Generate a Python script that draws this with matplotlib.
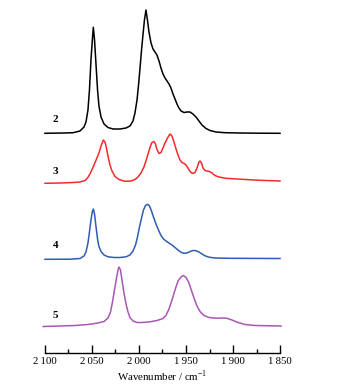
import matplotlib
matplotlib.use('Agg')
import matplotlib.pyplot as plt
from matplotlib.ticker import MultipleLocator, FuncFormatter

plt.rcParams['font.family'] = ['Liberation Serif', 'DejaVu Serif']
plt.rcParams['mathtext.fontset'] = 'custom'
plt.rcParams['mathtext.rm'] = 'Liberation Serif'

# IR spectra (wavenumber / cm-1, absorbance a.u.)
wn2 = [2100, 2080, 2070, 2062.8, 2058.5, 2056.4, 2054.3, 2052.7, 2051.1, 2049.5,
       2048.6, 2047.3, 2045.7, 2044.1, 2042.6, 2040.4, 2037.2, 2033.0, 2027.7, 2020.2,
       2013.8, 2009.6, 2006.4, 2004.3, 2002.1, 2000.5, 1998.9, 1997.3, 1995.7, 1994.2,
       1992.6, 1991.0, 1989.4, 1987.2, 1985.1, 1983.0, 1980.9, 1978.7, 1976.6, 1974.5,
       1972.3, 1970.2, 1968.1, 1966.0, 1963.8, 1961.7, 1959.6, 1957.5, 1955.3, 1952.1,
       1948.9, 1945.7, 1942.6, 1939.4, 1936.2, 1933.0, 1928.7, 1924.5, 1918.1, 1908.5,
       1892.6, 1871.3, 1850]
a2 = [0, 0.3, 0.6, 2.3, 6.3, 11.3, 23.3, 43.3, 73.3, 95.3,
      106, 93.3, 68.3, 43.3, 27.3, 16.3, 9.3, 5.8, 4.3, 4.3,
      5.3, 7.3, 12.3, 20.3, 33.3, 48.3, 65.3, 83.3, 99.3, 113.3,
      123.3, 113.3, 101.3, 90.3, 84.3, 81.3, 78.3, 72.3, 65.3, 59.3,
      55.3, 52.3, 49.3, 45.3, 39.3, 34.3, 29.3, 25.3, 22.3, 20.8,
      21.3, 21.3, 19.3, 16.3, 12.3, 8.3, 4.8, 2.8, 1.3, 0.6,
      0.3, 0.1, 0]

wn3 = [2100, 2084, 2070.2, 2062.8, 2057.4, 2054.3, 2051.1, 2047.9, 2045.2, 2042.6,
       2040.4, 2038.0, 2036.2, 2034.6, 2033.0, 2030.9, 2028.7, 2025.5, 2021.3, 2014.9,
       2008.5, 2004.3, 2001.1, 1997.9, 1994.7, 1992.6, 1990.4, 1987.8, 1986.2, 1984.0,
       1982.5, 1980.9, 1978.7, 1976.6, 1974.5, 1972.3, 1969.7, 1967.0, 1964.9, 1962.8,
       1960.6, 1958.5, 1956.4, 1954.3, 1952.1, 1950.0, 1947.9, 1945.7, 1943.1, 1940.4,
       1938.3, 1936.2, 1935.1, 1933.5, 1931.9, 1929.8, 1927.7, 1925.0, 1922.3, 1919.2,
       1914.9, 1907.5, 1892.6, 1871.3, 1850]
a3 = [0, 0.3, 0.8, 1.3, 2.8, 5.8, 11.3, 18.3, 24.3, 30.3,
      37.3, 43.3, 41.3, 35.3, 27.3, 18.3, 12.3, 6.8, 3.8, 2.0,
      2.3, 3.8, 6.3, 10.3, 16.3, 22.3, 29.3, 37.3, 40.8, 41.8,
      39.3, 33.8, 29.8, 30.8, 35.3, 40.3, 45.3, 49.3, 47.3, 41.3,
      34.3, 28.3, 23.3, 20.8, 19.8, 18.3, 15.3, 11.8, 9.8, 10.8,
      15.3, 21.3, 22.3, 20.3, 15.3, 12.8, 12.3, 11.8, 10.3, 7.8,
      6.3, 5.0, 4.1, 3.0, 2.3]

wn4 = [2100, 2073.4, 2062.8, 2058.5, 2056.4, 2054.3, 2052.7, 2051.1, 2049.7, 2048.6,
       2047.3, 2045.7, 2044.1, 2042.6, 2040.4, 2037.2, 2033.0, 2026.6, 2020.2, 2013.8,
       2009.6, 2006.4, 2003.7, 2001.6, 1999.5, 1997.3, 1995.2, 1993.1, 1990.7, 1988.8,
       1986.7, 1984.6, 1981.9, 1979.3, 1976.6, 1973.9, 1971.3, 1968.1, 1964.9, 1961.7,
       1958.5, 1955.3, 1952.1, 1948.9, 1945.7, 1942.6, 1939.4, 1936.2, 1933.0, 1929.8,
       1925.5, 1919.1, 1903.2, 1850]
a4 = [0, 0.1, 0.8, 3.3, 7.3, 16.3, 27.3, 39.3, 47.3, 50.3,
      45.3, 32.3, 20.3, 12.8, 7.8, 4.3, 2.5, 1.8, 1.8, 2.5,
      4.3, 8.3, 14.3, 22.3, 32.3, 41.3, 49.3, 53.8, 55.0, 53.3,
      48.3, 42.3, 35.3, 29.3, 23.8, 20.3, 18.3, 16.3, 14.3, 11.8,
      9.3, 7.0, 6.0, 6.3, 7.8, 8.8, 8.6, 7.3, 5.3, 3.5,
      2.1, 1.3, 1.0, 0.8]

wn5 = [2102, 2084, 2068.1, 2054.3, 2043.6, 2037.2, 2033.0, 2030.3, 2028.2, 2026.1,
       2023.9, 2022.3, 2021.3, 2019.7, 2018.1, 2016.0, 2013.8, 2011.7, 2009.6, 2006.4,
       2002.1, 1996.8, 1988.3, 1980.9, 1974.5, 1971.3, 1968.1, 1964.9, 1961.7, 1958.5,
       1955.3, 1952.7, 1950.0, 1947.3, 1944.7, 1941.5, 1938.3, 1935.1, 1930.9, 1925.5,
       1918.1, 1911.7, 1906.4, 1901.1, 1894.7, 1887.2, 1876.6, 1848.9]
a5 = [-0.5, 0, 0.5, 1.5, 3.0, 4.5, 8.0, 14.0, 24.0, 36.0,
      48.0, 56.0, 59.0, 56.0, 46.0, 33.0, 22.0, 14.0, 8.5, 5.0,
      3.5, 3.5, 4.2, 5.5, 7.5, 10.5, 17.0, 26.0, 36.0, 45.0,
      49.0, 50.5, 48.5, 44.0, 37.0, 28.0, 20.0, 14.5, 10.5, 8.5,
      7.8, 8.0, 7.7, 6.0, 3.5, 1.5, 0.5, 0]

labels = ['2', '3', '4', '5']
offsets = [219.4, 169.4, 93.4, 26.7]
colors = ['black', '#f52a2a', '#2f5db3', '#a957b3']
label_y = [232.7, 181.3, 107.7, 37.7]

fig = plt.figure(figsize=(3.41, 3.92), dpi=100)
ax = fig.add_axes([45/341, 39.3/392, 235/341, 352.7/392])

spectra = [(wn2, a2), (wn3, a3), (wn4, a4), (wn5, a5)]
for (w, a), off, c in zip(spectra, offsets, colors):
    ax.plot(w, [v + off for v in a], color=c, lw=1.1, clip_on=False)

for lab, y in zip(labels, label_y):
    ax.text(2089, y, lab, fontsize=8, fontweight='bold', ha='center', va='center')

ax.set_xlim(2100, 1850)
ax.set_ylim(0, 352.7)
for s in ['left', 'right', 'top']:
    ax.spines[s].set_visible(False)
ax.spines['bottom'].set_linewidth(1.0)
ax.set_yticks([])
ax.xaxis.set_major_locator(MultipleLocator(50))
ax.xaxis.set_minor_locator(MultipleLocator(25))
ax.xaxis.set_major_formatter(FuncFormatter(
    lambda v, p: '{:,}'.format(int(round(v))).replace(',', '\u2009')))
ax.tick_params(axis='x', which='major', direction='in', length=5.5, width=1.0,
               labelsize=7.8, pad=3)
ax.tick_params(axis='x', which='minor', direction='in', length=3, width=1.0)
ax.set_xlabel('Wavenumber / cm$^{-1}$', fontsize=7.8, labelpad=2)

fig.savefig('out.png', dpi=100)
